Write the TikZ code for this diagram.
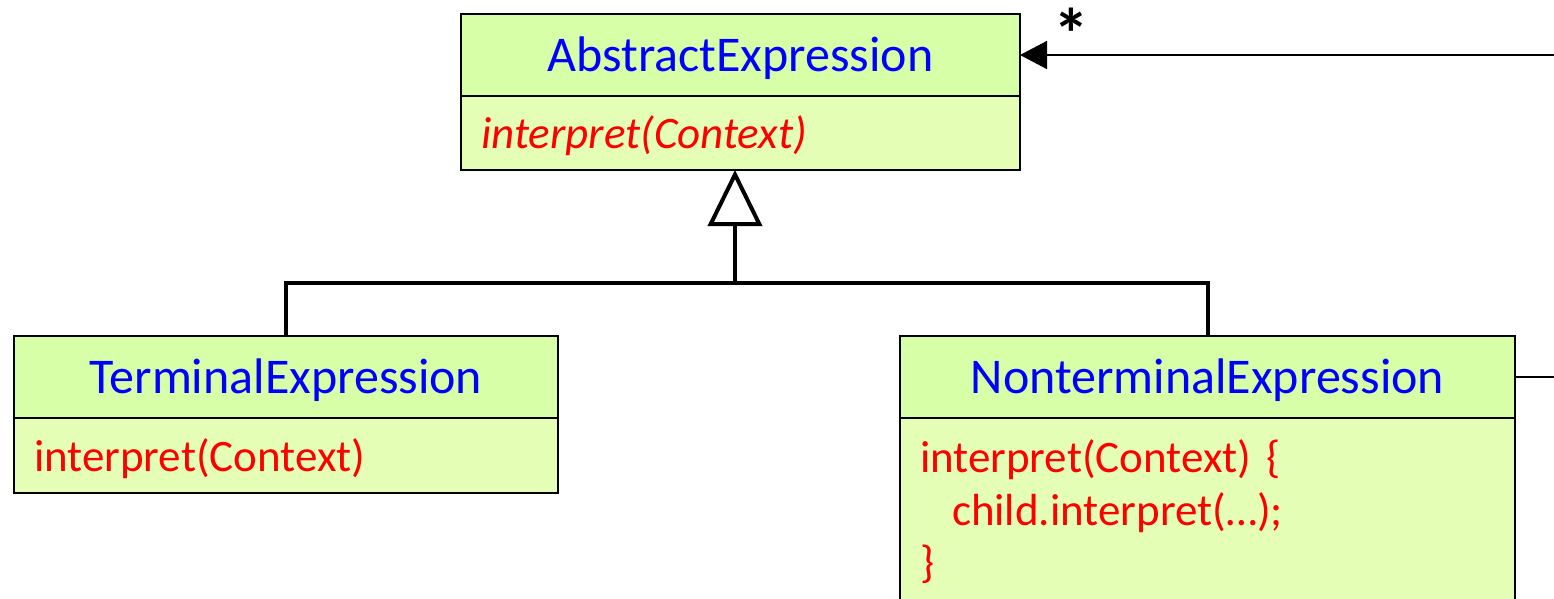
\documentclass[tikz,border=0pt]{standalone}
\usepackage{fontspec}
\setmainfont{Carlito}
\usetikzlibrary{positioning,arrows.meta}
\definecolor{hdgreen}{RGB}{214,255,168}
\definecolor{bdgreen}{RGB}{228,255,181}
\tikzset{
  classhead/.style={draw, line width=2pt, fill=hdgreen, text=blue, outer sep=0pt, inner sep=0pt,
    minimum height=82pt, text depth=2pt, font=\fontsize{50}{60}\selectfont},
  classbody/.style={draw, line width=2pt, fill=bdgreen, text=red, outer sep=0pt, inner xsep=20pt,
    align=left, text depth=1pt, font=\fontsize{45}{52.5}\selectfont},
  inherit/.style={line width=4pt},
  assoc/.style={line width=1.5pt},
}

\begin{document}
\begin{tikzpicture}[x=1pt,y=-1pt]
    \useasboundingbox (0,0) rectangle (1554,599);
    \clip (0,0) rectangle (1554,599);
    % classes
    \node[classhead, minimum width=559pt] (abs) at (740.5,55) {AbstractExpression};
    \node[classbody, text width=519pt, minimum height=74pt, below=0pt of abs] (absops) {\textit{interpret(Context)}};
    \node[classhead, minimum width=544pt] (term) at (286,377) {TerminalExpression};
    \node[classbody, text width=504pt, minimum height=75pt, below=0pt of term] (termops) {interpret(Context)};
    \node[classhead, minimum width=615pt] (nonterm) at (1207.5,377) {NonterminalExpression};
    \node[classbody, text width=575pt, text depth={}, inner ysep=22pt, below=0pt of nonterm] (nontermops)
        {interpret(Context) \{\\\hspace*{32pt}child.interpret(\ldots);\\\}};
    % inheritance
    \coordinate (join) at (735,283);
    \draw[inherit] (term.north) |- (join) -| (nonterm.north);
    \draw[inherit, -{Triangle[open, fill=white, length=56pt, width=54pt]}] (join) -- (absops.south -| join);
    % aggregation to the right
    \coordinate (outtop) at (1554,55);
    \coordinate (outmid) at (1554,377);
    \draw[assoc, -{Triangle[length=27pt, width=28pt]}] (outtop) -- (abs.east);
    \draw[assoc] (nonterm.east) -- (outmid);
    \node[anchor=base, inner sep=0pt, font=\fontsize{72}{80}\bfseries] (mult) at (1071,60) {*};
\end{tikzpicture}
\end{document}
